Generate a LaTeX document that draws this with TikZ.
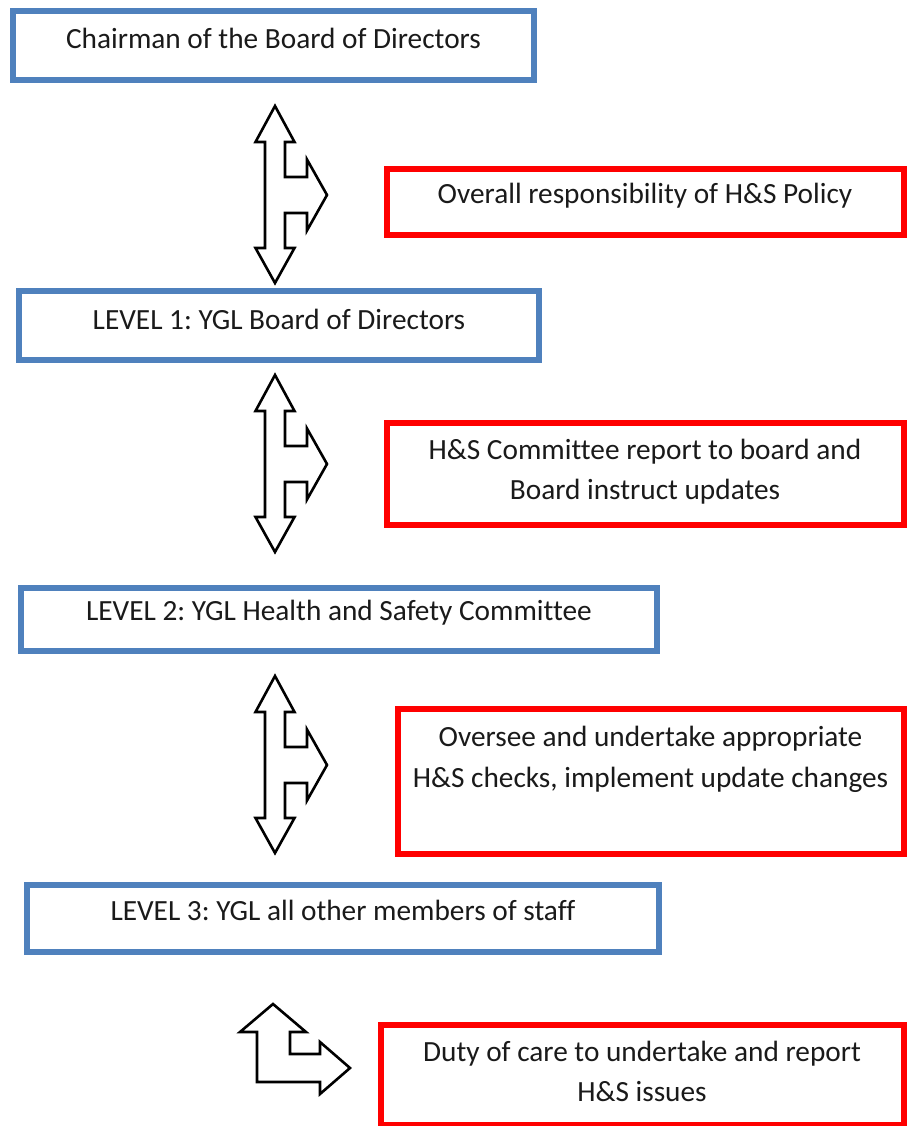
\documentclass[tikz,border=0pt]{standalone}
\usepackage{fontspec}
\setmainfont[Ligatures=NoCommon]{Carlito}
\definecolor{boxblue}{HTML}{4F81BD}
\definecolor{boxred}{HTML}{FF0000}
\definecolor{txt}{HTML}{1A1A1A}
\frenchspacing
\begin{document}
\begin{tikzpicture}[x=1pt,y=-1pt,
  bluebox/.style={draw=boxblue,line width=6pt,fill=white,inner sep=0pt},
  redbox/.style={draw=boxred,line width=6pt,fill=white,inner sep=0pt},
  lbl/.style={anchor=base,inner sep=0pt,text=txt,font=\fontsize{29.3}{34}\selectfont},
  blockarrow/.style={draw=black,line width=2.6pt,fill=white,line join=miter}]
\useasboundingbox[fill=white] (0,0) rectangle (907,1126);

% boxes
\node[bluebox,minimum width=521pt,minimum height=69pt] (b1) at (273.5,45.5) {};
\node[redbox,minimum width=517pt,minimum height=66pt] (r1) at (645,202) {};
\node[bluebox,minimum width=520pt,minimum height=69pt] (b2) at (279,325.5) {};
\node[redbox,minimum width=517pt,minimum height=102pt] (r2) at (645,474) {};
\node[bluebox,minimum width=636pt,minimum height=63pt] (b3) at (339,619.5) {};
\node[redbox,minimum width=506pt,minimum height=145pt] (r3) at (650.5,781.5) {};
\node[bluebox,minimum width=632pt,minimum height=67pt] (b4) at (343,918.5) {};
\node[redbox,minimum width=523pt,minimum height=100pt] (r4) at (642,1075) {};

% texts
\node[lbl] (t1) at (273.5,49) {Chairman of the Board of Directors};
\node[lbl] (t2) at (645,204) {Overall responsibility of H\&S Policy};
\node[lbl] (t3) at (279,329) {LEVEL 1: YGL Board of Directors};
\node[lbl] (t4a) at (645,459) {H\&S Committee report to board and};
\node[lbl] (t4b) at (645,499) {Board instruct updates};
\node[lbl] (t5) at (339,620) {LEVEL 2: YGL Health and Safety Committee};
\node[lbl] (t6a) at (650.5,746) {Oversee and undertake appropriate};
\node[lbl] (t6b) at (650.5,787) {H\&S checks, implement update changes};
\node[lbl] (t7) at (343,920) {LEVEL 3: YGL all other members of staff};
\node[lbl] (t8a) at (642,1061) {Duty of care to undertake and report};
\node[lbl] (t8b) at (642,1101) {H\&S issues};

% three-way block arrows
\foreach \cy/\nm in {195/a1,464/a2,765/a3}{
  \coordinate (\nm) at (275,\cy);
  \draw[blockarrow,shift={(\nm)}]
    (0,-89) -- (19.5,-53) -- (10,-53) -- (10,-18) -- (32,-18) -- (32,-35.5)
    -- (52,0) -- (32,35.5) -- (32,18) -- (10,18) -- (10,53) -- (19.5,53)
    -- (0,88) -- (-19.5,53) -- (-10,53) -- (-10,-53) -- (-19.5,-53) -- cycle;
}

% bent block arrow
\coordinate (a4) at (273,1004);
\draw[blockarrow,shift={(a4)}]
  (0,0) -- (33,28) -- (17,28) -- (17,50) -- (47,50) -- (47,38)
  -- (77,64) -- (47,90) -- (47,78) -- (-16,78) -- (-16,28) -- (-33,28) -- cycle;
\end{tikzpicture}
\end{document}
